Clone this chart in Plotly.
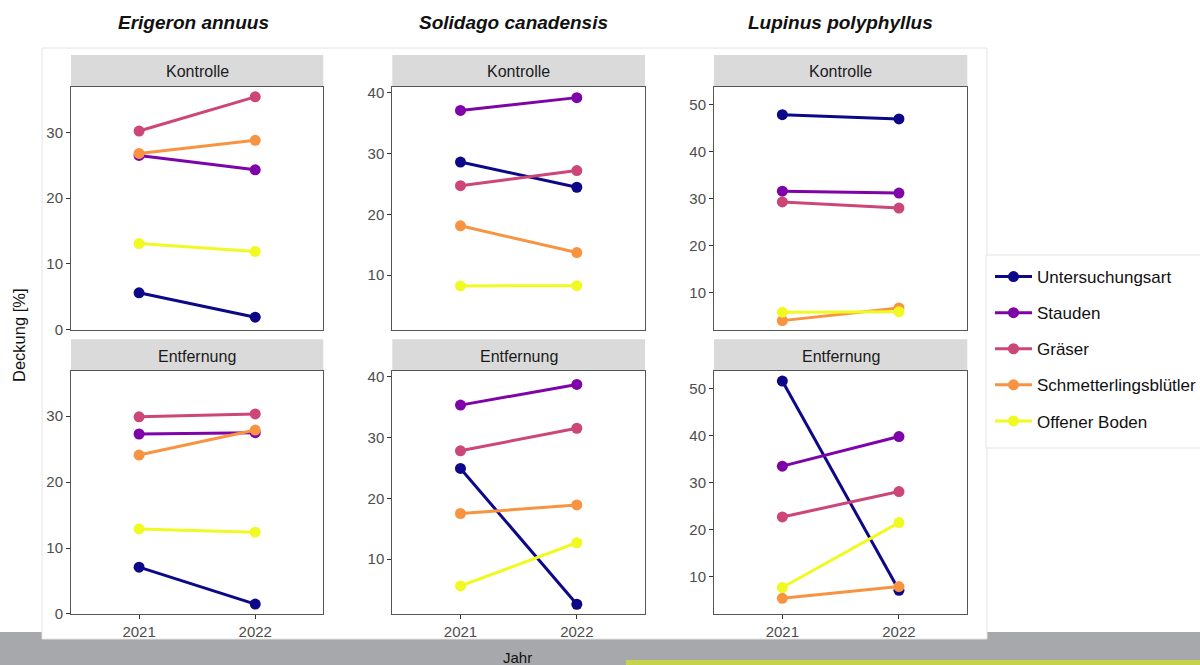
import plotly.graph_objects as go

# ---------------- data ----------------
years = [2021, 2022]
groups = ["Untersuchungsart", "Stauden", "Gräser", "Schmetterlingsblütler", "Offener Boden"]
colors = ["#0D0887", "#7E03A8", "#CC4678", "#F89441", "#F0F921"]
species = ["Erigeron annuus", "Solidago canadensis", "Lupinus polyphyllus"]
treatments = ["Kontrolle", "Entfernung"]

# values per group: [2021, 2022]
erigeron_kontrolle = [[5.6, 1.9], [26.5, 24.3], [30.2, 35.4], [26.8, 28.8], [13.1, 11.9]]
erigeron_entfernung = [[7.1, 1.5], [27.3, 27.5], [29.9, 30.35], [24.1, 27.9], [12.9, 12.4]]
solidago_kontrolle = [[28.6, 24.45], [37.1, 39.2], [24.7, 27.2], [18.1, 13.7], [8.2, 8.25]]
solidago_entfernung = [[24.9, 2.6], [35.3, 38.7], [27.8, 31.5], [17.5, 18.9], [5.6, 12.7]]
lupinus_kontrolle = [[47.9, 47.0], [31.6, 31.2], [29.3, 28.0], [4.0, 6.7], [5.8, 5.9]]
lupinus_entfernung = [[51.6, 7.1], [33.5, 39.8], [22.7, 28.1], [5.4, 7.9], [7.7, 21.5]]

panel_data = [
    [erigeron_kontrolle, erigeron_entfernung],
    [solidago_kontrolle, solidago_entfernung],
    [lupinus_kontrolle, lupinus_entfernung],
]
y_ticks = [[0, 10, 20, 30], [10, 20, 30, 40], [10, 20, 30, 40, 50]]
y_ranges = [[-0.05, 36.9], [0.95, 40.95], [2.0, 53.8]]

# ---------------- layout geometry (pixels) ----------------
W, H = 1200, 665
col_px = [(71, 323.3), (392.3, 645), (714, 967.3)]
row_px = [(87, 330), (370.7, 614.3)]
strip_px = [(55, 87), (339.3, 370.7)]


def xp(px):
    return px / W


def yp(py):
    return 1 - py / H


fig = go.Figure()
layout = {}
shapes = []
annotations = []

# slide background elements
shapes.append(dict(type="rect", xref="paper", yref="paper", x0=0, x1=1, y0=0, y1=yp(632),
                   fillcolor="#a7a8ab", line=dict(width=0), layer="below"))
shapes.append(dict(type="rect", xref="paper", yref="paper", x0=xp(42), x1=xp(987), y0=yp(639), y1=yp(48),
                   fillcolor="white", line=dict(color="#e4e4e4", width=1), layer="below"))
shapes.append(dict(type="rect", xref="paper", yref="paper", x0=xp(626), x1=1, y0=0, y1=yp(660),
                   fillcolor="#c5d24c", line=dict(width=0), layer="below"))
shapes.append(dict(type="rect", xref="paper", yref="paper", x0=xp(986), x1=1.01, y0=yp(448), y1=yp(255),
                   fillcolor="white", line=dict(color="#e4e4e4", width=1), layer="below"))

idx = 0
for c in range(3):
    for r in range(2):
        idx += 1
        xa = "xaxis" if idx == 1 else f"xaxis{idx}"
        ya = "yaxis" if idx == 1 else f"yaxis{idx}"
        xr = "x" if idx == 1 else f"x{idx}"
        yr = "y" if idx == 1 else f"y{idx}"
        x0, x1 = col_px[c]
        top, bot = row_px[r]
        layout[xa] = dict(
            domain=[xp(x0), xp(x1)], anchor=yr, range=[2020.414, 2022.586],
            tickvals=years, ticktext=[str(v) for v in years],
            showticklabels=(r == 1), ticks="outside" if r == 1 else "",
            ticklen=4, tickcolor="#333333", tickwidth=1,
            tickfont=dict(family="Liberation Sans, Arial", size=15, color="#4d4d4d"),
            showgrid=False, zeroline=False, showline=True, linecolor="#555555",
            linewidth=1, mirror=True, fixedrange=True, automargin=False,
        )
        layout[ya] = dict(
            domain=[yp(bot), yp(top)], anchor=xr, range=y_ranges[c],
            tickvals=y_ticks[c], ticks="outside", ticklen=4, tickcolor="#333333", tickwidth=1,
            tickfont=dict(family="Liberation Sans, Arial", size=15, color="#4d4d4d"),
            showgrid=False, zeroline=False, showline=True, linecolor="#555555",
            linewidth=1, mirror=True, fixedrange=True, automargin=False,
        )
        # strip
        s0, s1 = strip_px[r]
        shapes.append(dict(type="rect", xref="paper", yref="paper", x0=xp(x0), x1=xp(x1),
                           y0=yp(s1), y1=yp(s0), fillcolor="#dadadb", line=dict(width=0),
                           layer="below"))
        annotations.append(dict(text=treatments[r], xref="paper", yref="paper",
                                x=xp((x0 + x1) / 2), y=yp((s0 + s1) / 2 + 1), showarrow=False,
                                xanchor="center", yanchor="middle",
                                font=dict(family="Liberation Sans, Arial", size=16, color="#1a1a1a")))
        data = panel_data[c][r]
        for g, name in enumerate(groups):
            fig.add_trace(go.Scatter(
                x=years, y=data[g], mode="lines+markers", name=name,
                legendgroup=name, showlegend=(idx == 1),
                line=dict(color=colors[g], width=3),
                marker=dict(color=colors[g], size=11),
                xaxis=xr, yaxis=yr, hoverinfo="skip",
            ))

# titles
title_x = [194, 513, 840]
for c, sp in enumerate(species):
    annotations.append(dict(text=f"<b><i>{sp}</i></b>", xref="paper", yref="paper",
                            x=xp(title_x[c]), y=yp(23), showarrow=False,
                            xanchor="center", yanchor="middle",
                            font=dict(family="Liberation Sans, Arial", size=19, color="#111111")))

annotations.append(dict(text="Deckung [%]", xref="paper", yref="paper", x=xp(19), y=yp(335),
                        showarrow=False, textangle=-90, xanchor="center", yanchor="middle",
                        font=dict(family="Liberation Sans, Arial", size=16.5, color="#111111")))
annotations.append(dict(text="Jahr", xref="paper", yref="paper", x=xp(517), y=yp(657),
                        showarrow=False, xanchor="center", yanchor="middle",
                        font=dict(family="Liberation Sans, Arial", size=15, color="#111111")))

fig.update_layout(
    width=W, height=H, margin=dict(l=0, r=0, t=0, b=0, autoexpand=False),
    paper_bgcolor="white", plot_bgcolor="rgba(0,0,0,0)",
    shapes=shapes, annotations=annotations,
    legend=dict(x=xp(990), y=yp(259), xanchor="left", yanchor="top",
                bgcolor="rgba(0,0,0,0)", tracegroupgap=11, itemwidth=37,
                font=dict(family="Liberation Sans, Arial", size=17, color="#111111")),
    **layout,
)

fig.write_html(
    "out.html",
    config={"displayModeBar": False},
    post_script="document.body.style.margin='0';document.body.style.overflow='hidden';",
)
